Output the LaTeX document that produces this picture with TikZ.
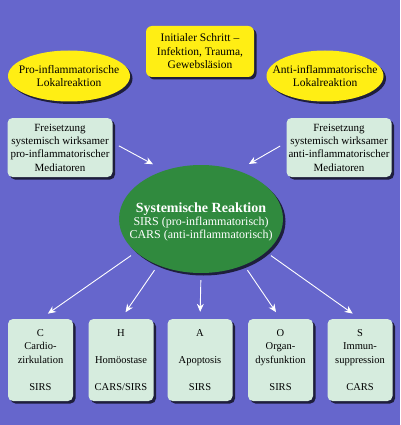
\documentclass[tikz,border=0pt]{standalone}
\usepackage{fontspec}
\setmainfont{Liberation Serif}
\usetikzlibrary{shapes.geometric, shadows, arrows.meta}
\definecolor{hintergrund}{RGB}{102,102,204}
\definecolor{gelb}{RGB}{255,238,20}
\definecolor{mint}{RGB}{214,236,222}
\definecolor{gruen}{RGB}{48,138,62}
\tikzset{
  schatten/.style={drop shadow={shadow xshift=2.5pt, shadow yshift=-2.5pt, fill=black, opacity=0.7}},
  txt/.style={font=\fontsize{11.5}{13.5}\selectfont, align=center},
  startbox/.style={txt, fill=gelb, rounded corners=6pt, minimum width=108pt, minimum height=51pt, inner sep=0pt, schatten},
  lokal/.style={ellipse, fill=gelb, inner sep=0pt, schatten},
  mediator/.style={txt, font=\fontsize{11}{13.3}\selectfont, fill=mint, rounded corners=5pt, minimum width=105pt, minimum height=59pt, inner sep=0pt, schatten},
  organ/.style={txt, font=\fontsize{10.5}{13.5}\selectfont, fill=mint, rounded corners=5pt, minimum width=65pt, minimum height=82pt, inner sep=0pt, schatten},
  pfeil/.style={draw=white, line width=0.9pt, -{Stealth[length=8pt, width=7pt]}}
}
\begin{document}
\begin{tikzpicture}[x=1pt, y=-1pt]
    % Hintergrund
    \fill[hintergrund] (0,0) rectangle (400,425);
    \useasboundingbox (0,0) rectangle (400,425);

    % Initialer Schritt
    \node[startbox] (init) at (200,51.5) {Initialer Schritt --\\Infektion, Trauma,\\Gewebsläsion};

    % Lokalreaktionen
    \node[lokal, minimum width=122pt, minimum height=51pt,
          label={[txt]center:Pro-inflammatorische\\Lokalreaktion}] (prol) at (69,76) {};
    \node[lokal, minimum width=117pt, minimum height=51pt,
          label={[txt]center:Anti-inflammatorische\\Lokalreaktion}] (antil) at (325,76) {};

    % Mediatoren
    \node[mediator] (medl) at (60,147.5) {Freisetzung\\systemisch wirksamer\\pro-inflammatorischer\\Mediatoren};
    \node[mediator] (medr) at (339,147.5) {Freisetzung\\systemisch wirksamer\\anti-inflammatorischer\\Mediatoren};

    % Systemische Reaktion
    \node[ellipse, fill=gruen, minimum width=164pt, minimum height=108pt, inner sep=0pt, schatten,
          label={[txt, font=\fontsize{12}{13}\selectfont, text=white, yshift=-3pt]center:{\fontsize{14}{15}\selectfont\bfseries Systemische Reaktion}\\SIRS (pro-inflammatorisch)\\CARS (anti-inflammatorisch)}] (sys) at (201,219) {};

    % CHAOS
    \node[organ] (c) at (40.5,360) {C\\Cardio-\\zirkulation\\[13.5pt]SIRS};
    \node[organ] (h) at (121,360) {H\\[13.5pt]Homöostase\\[13.5pt]CARS/SIRS};
    \node[organ] (a) at (200,360) {A\\[13.5pt]Apoptosis\\[13.5pt]SIRS};
    \node[organ] (o) at (280.5,360) {O\\Organ-\\dysfunktion\\[13.5pt]SIRS};
    \node[organ] (s) at (360,360) {S\\Immun-\\suppression\\[13.5pt]CARS};

    % Pfeile
    \draw[pfeil, shorten <=7pt, shorten >=13pt] ([yshift=5pt]medl.east) -- (sys.127);
    \draw[pfeil, shorten <=7pt, shorten >=13pt] ([yshift=5pt]medr.west) -- (sys.53);
    \draw[pfeil, shorten <=6pt, shorten >=9pt] (sys.207) -- (c.north);
    \draw[pfeil, shorten <=6pt, shorten >=8pt] (sys.227) -- (h.north);
    \draw[pfeil, shorten <=7pt, shorten >=7pt] (sys.south) -- (a.north);
    \draw[pfeil, shorten <=6pt, shorten >=8pt] (sys.313) -- (o.north);
    \draw[pfeil, shorten <=6pt, shorten >=9pt] (sys.333) -- (s.north);
\end{tikzpicture}
\end{document}
